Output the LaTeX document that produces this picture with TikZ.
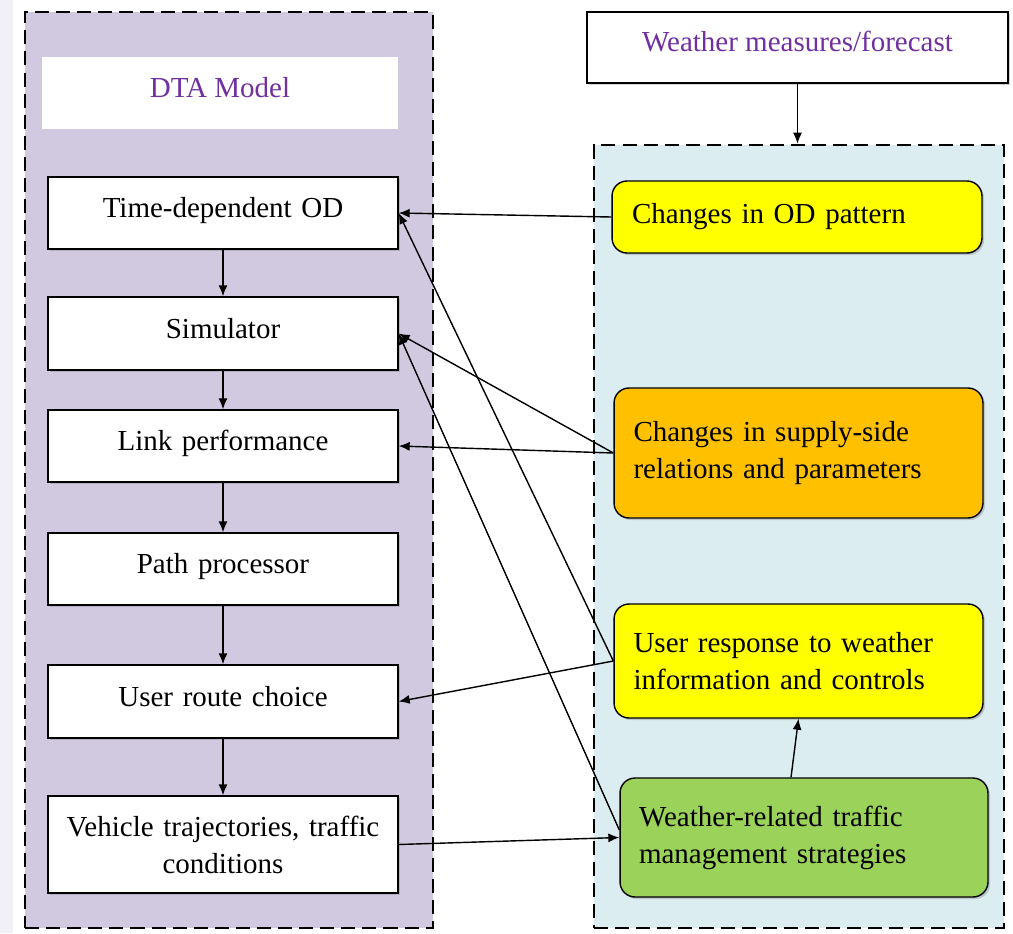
\documentclass[tikz,border=0pt]{standalone}
\usepackage{fontspec}
\setmainfont{Liberation Serif}
\usetikzlibrary{arrows.meta,shadows}
\definecolor{dtalilac}{HTML}{D1C9E0}
\definecolor{wxblue}{HTML}{DCEDF2}
\definecolor{titlepurple}{HTML}{7030A0}
\definecolor{odyellow}{HTML}{FFFF00}
\definecolor{supplyorange}{HTML}{FFC000}
\definecolor{mgmtgreen}{HTML}{9BD25A}
\definecolor{edgestrip}{HTML}{F0F0F6}

\begin{document}
\begin{tikzpicture}[x=0.02cm,y=-0.02cm,>={Latex[length=2.2mm,width=1.8mm]},
  font=\fontsize{16.5}{21}\selectfont,
  group/.style={draw,line width=1.6pt,dash pattern=on 8pt off 4pt,inner sep=0pt},
  shade/.style={drop shadow={shadow xshift=1.2pt,shadow yshift=-1.2pt,opacity=0.35}},
  oneline/.style={text height=0.4cm,text depth=0.22cm},
  stage/.style={draw,line width=0.8pt,fill=white,shade,minimum width=7cm,
    minimum height=1.44cm,text width=6.6cm,align=center,inner sep=0pt},
  effect/.style={draw,line width=0.8pt,rounded corners=0.3cm,shade,minimum width=7.4cm,
    text width=6.6cm,align=left,inner sep=0pt},
  flow/.style={->,line width=0.8pt}]
% positions are in pixels of the original figure, y grows downwards
\useasboundingbox (0,0) rectangle (1013,933);
\fill[white] (0,0) rectangle (1013,933);
\fill[edgestrip] (0,0) rectangle (13,933);
% the two dashed groups
\node[group,fill=dtalilac,minimum width=8.16cm,minimum height=18.32cm] (dtaarea) at (229,470) {};
\node[group,fill=wxblue,minimum width=8.2cm,minimum height=15.66cm] (wxarea) at (799,536.5) {};
% DTA model column
\node[fill=white,oneline,minimum width=7.12cm,minimum height=1.44cm,text=titlepurple] (title) at (220,93) {DTA Model};
\node[stage,oneline] (od) at (223,213) {Time-dependent OD};
\node[stage,oneline,minimum height=1.46cm] (sim) at (223,333.5) {Simulator};
\node[stage,oneline] (perf) at (223,446) {Link performance};
\node[stage,oneline] (path) at (223,569) {Path processor};
\node[stage,oneline,minimum height=1.46cm] (route) at (223,701.5) {User route choice};
\node[stage,minimum height=1.94cm] (veh) at (223,844.5) {Vehicle trajectories, traffic\\conditions};
% weather side
\node[draw,line width=0.8pt,fill=white,shade,oneline,minimum width=8.42cm,minimum height=1.42cm,
  text=titlepurple] (wx) at (797.5,47.5) {Weather measures/forecast};
\node[effect,fill=odyellow,minimum height=1.44cm] (odchg) at (797,217) {Changes in OD pattern};
\node[effect,fill=supplyorange,minimum width=7.38cm,minimum height=2.6cm] (supply) at (798.5,453)
  {Changes in supply-side\\relations and parameters};
\node[effect,fill=odyellow,minimum width=7.38cm,minimum height=2.28cm] (resp) at (798.5,661)
  {User response to weather\\information and controls};
\node[effect,fill=mgmtgreen,minimum width=7.36cm,minimum height=2.38cm] (mgmt) at (804,837.5)
  {Weather-related traffic\\management strategies};
% connectors
\foreach \a/\b in {od/sim,sim/perf,perf/path,path/route,route/veh}
  \draw[flow] (\a) -- (\b);
\draw[flow] (wx.south) -- (wx.south |- wxarea.north);
\draw[flow] (odchg.west) -- (od.east);
\draw[flow] (supply.west) -- (perf.east);
\draw[flow] (supply.west) -- (sim.east);
\draw[flow] (resp.west) -- (route.east);
\draw[flow] (resp.west) -- (od.east);
\draw[flow] ([yshift=0.15cm]mgmt.west) -- (sim.east);
\draw[flow] (veh.east) -- (mgmt.west);
\draw[flow] ([xshift=-0.26cm]mgmt.north) -- (resp.south);
\end{tikzpicture}
\end{document}
